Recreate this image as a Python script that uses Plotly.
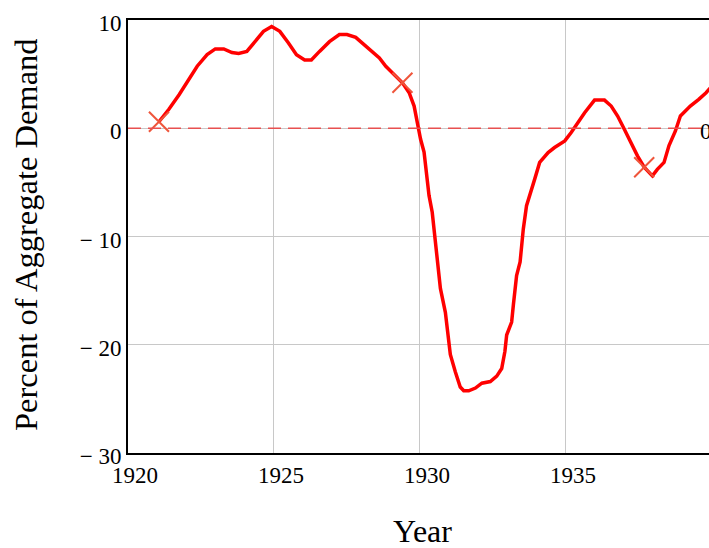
import plotly.graph_objects as go

# Curve: percent of aggregate demand by year
years = [1921.06, 1921.40, 1921.75, 1922.03, 1922.37, 1922.71, 1922.99, 1923.28, 1923.56,
         1923.79, 1924.07, 1924.35, 1924.64, 1924.92, 1925.20, 1925.49, 1925.77, 1926.05,
         1926.28, 1926.56, 1926.90, 1927.24, 1927.50, 1927.80, 1928.10, 1928.35, 1928.61,
         1928.83, 1929.12, 1929.40, 1929.63, 1929.80, 1929.91, 1930.02, 1930.14, 1930.25,
         1930.31, 1930.42, 1930.53, 1930.65, 1930.70, 1930.87, 1930.99, 1931.04, 1931.21,
         1931.38, 1931.50, 1931.67, 1931.90, 1932.12, 1932.41, 1932.63, 1932.80, 1932.91,
         1932.97, 1933.14, 1933.20, 1933.31, 1933.43, 1933.54, 1933.65, 1933.82, 1933.93,
         1934.10, 1934.39, 1934.61, 1934.96, 1935.18, 1935.41, 1935.64, 1935.98, 1936.32,
         1936.55, 1936.77, 1937.00, 1937.22, 1937.45, 1937.68, 1937.96, 1938.13, 1938.36,
         1938.53, 1938.75, 1938.92, 1939.26, 1939.55, 1939.80, 1940.00]
values = [0.6, 1.75, 3.1, 4.35, 5.73, 6.8, 7.33, 7.33, 7.0,
          6.9, 7.1, 8.0, 8.95, 9.4, 8.95, 7.9, 6.8, 6.3,
          6.3, 7.1, 8.0, 8.65, 8.65, 8.4, 7.7, 7.1, 6.5,
          5.73, 4.97, 4.2, 3.28, 2.05, 0.52, -1.0, -2.2, -4.7,
          -6.2, -7.76, -10.8, -13.3, -14.8, -17.0, -19.4, -20.9, -22.5,
          -23.9, -24.25, -24.25, -24.0, -23.55, -23.4, -22.9, -22.2, -20.6,
          -19.1, -17.9, -16.3, -13.6, -12.35, -9.3, -7.15, -5.77, -4.7,
          -3.16, -2.24, -1.78, -1.17, -0.4, 0.52, 1.44, 2.6, 2.6,
          2.05, 1.13, -0.1, -1.3, -2.55, -3.6, -4.4, -3.8, -3.16,
          -1.6, -0.25, 1.13, 2.05, 2.67, 3.28, 3.9]

# Trace markers (crosses) on the curve
marker_years = [1921.06, 1929.40, 1937.68]
marker_values = [0.6, 4.2, -3.6]

# Horizontal reference marker
ref_value = 0

x_range = [1920, 1939.9]
y_range = [-30, 10]
x_ticks = [1920, 1925, 1930, 1935]
x_ticktext = ["1920", "1925", "1930", "1935"]
y_ticks = [10, 0, -10, -20, -30]
y_ticktext = ["10", "0", "\u2212 10", "\u2212 20", "\u2212 30"]

FONT = "Liberation Serif, Times New Roman, serif"

fig = go.Figure()
fig.add_trace(go.Scatter(x=years, y=values, mode="lines",
                         line=dict(color="#ff0000", width=3.5),
                         hoverinfo="skip", showlegend=False))
fig.add_trace(go.Scatter(x=marker_years, y=marker_values, mode="markers",
                         marker=dict(symbol="x-thin-open", size=20,
                                     line=dict(color="#ff0000", width=2)),
                         hoverinfo="skip", showlegend=False))

fig.add_hline(y=ref_value, line=dict(color="#e85050", width=1.6, dash="13px,7px"))

fig.update_layout(
    width=709, height=548,
    margin=dict(l=128, r=0, t=20, b=95),
    paper_bgcolor="white", plot_bgcolor="white",
    font=dict(family=FONT, color="black"),
    showlegend=False,
)
fig.update_xaxes(range=x_range, tickvals=x_ticks, ticktext=x_ticktext,
                 showgrid=True, gridcolor="#c8c8c8", gridwidth=1,
                 showline=True, linecolor="black", linewidth=2, mirror=True,
                 ticks="", ticklabelshift=7,
                 tickfont=dict(family=FONT, size=23, color="black"),
                 zeroline=False)
fig.update_yaxes(range=y_range, tickvals=y_ticks, ticktext=y_ticktext,
                 showgrid=True, gridcolor="#c8c8c8", gridwidth=1,
                 showline=True, linecolor="black", linewidth=2,
                 ticks="", ticklabelshift=3,
                 tickfont=dict(family=FONT, size=23, color="black"),
                 zeroline=False)

fig.add_annotation(text="Year", xref="paper", yref="paper",
                   x=(422 - 128) / 581, y=(453 - 531) / 433,
                   xanchor="center", yanchor="middle", showarrow=False,
                   font=dict(family=FONT, size=32, color="black"))
fig.add_annotation(text="Percent of Aggregate Demand", xref="paper", yref="paper",
                   x=(26 - 128) / 581, y=(453 - 235) / 433, textangle=-90,
                   xanchor="center", yanchor="middle", showarrow=False,
                   font=dict(family=FONT, size=32.5, color="black"))
fig.add_annotation(text="0", xref="paper", yref="y",
                   x=(698 - 128) / 581, y=ref_value, yshift=-3,
                   xanchor="left", yanchor="middle", showarrow=False,
                   font=dict(family=FONT, size=23, color="black"))

fig.write_html("out.html", config={"displayModeBar": False},
               post_script="document.body.style.margin='0';document.body.style.overflow='hidden';")
